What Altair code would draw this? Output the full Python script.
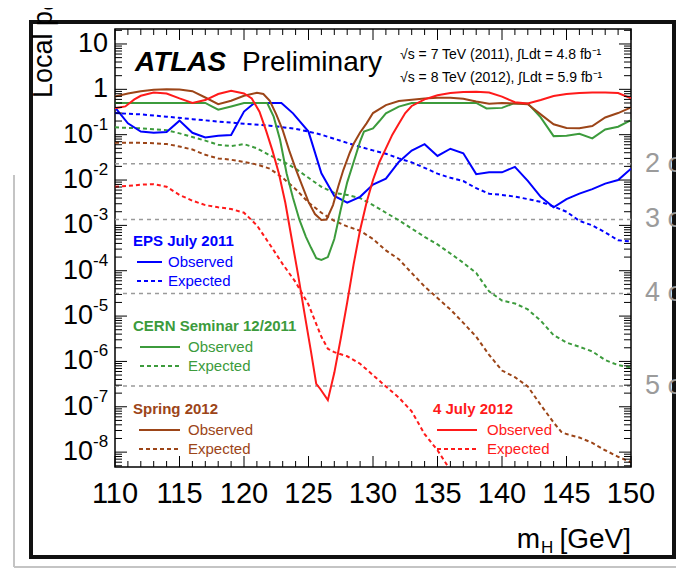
import altair as alt
import pandas as pd

# ---------------- data ----------------
blue_obs = [(110, 0.40), (111, 0.178), (112, 0.117), (113, 0.110), (114, 0.115), (115, 0.204),
            (116, 0.110), (117, 0.087), (118, 0.095), (119, 0.098), (120, 0.324), (120.8, 0.5),
            (122.9, 0.5), (123.8, 0.295), (125, 0.117), (126, 0.0141), (127, 0.00447),
            (128, 0.00316), (129, 0.00427), (130, 0.00794), (131, 0.0107), (132, 0.0251),
            (133, 0.0447), (134, 0.0617), (135, 0.0339), (136, 0.0490), (137, 0.0389),
            (138, 0.0135), (139, 0.0148), (140, 0.0148), (141, 0.0195), (142, 0.00955),
            (143, 0.00427), (144, 0.00251), (145, 0.00380), (146, 0.00501), (147, 0.00631),
            (148, 0.00832), (149, 0.0100), (150, 0.0178)]
blue_exp = [(110, 0.30), (112, 0.28), (114, 0.25), (116, 0.22), (118, 0.195), (120, 0.174),
            (122, 0.158), (124, 0.135), (125, 0.117), (126, 0.100), (127, 0.081), (128, 0.066),
            (129, 0.054), (130, 0.045), (131, 0.038), (132, 0.030), (133, 0.0245), (134, 0.0186),
            (135, 0.0138), (136, 0.0112), (137, 0.0095), (138, 0.0066), (139, 0.0050),
            (140, 0.0047), (141, 0.0043), (142, 0.0038), (143, 0.0033), (144, 0.0026),
            (145, 0.0020), (146, 0.00126), (147, 0.0010), (148, 0.0007), (149, 0.00047),
            (150, 0.00044)]
green_obs = [(110, 0.5), (117, 0.5), (117.5, 0.42), (118, 0.355), (119, 0.42), (120, 0.5),
             (121.8, 0.5), (122.3, 0.25), (122.8, 0.076), (123.3, 0.0141), (123.8, 0.0040),
             (124.3, 0.00132), (124.8, 5.6e-4), (125.2, 3.2e-4), (125.6, 1.9e-4), (126.0, 1.74e-4),
             (126.5, 2.0e-4), (127.0, 5.0e-4), (127.5, 2.24e-3), (128.0, 8.9e-3), (128.5, 0.025),
             (129.0, 0.071), (129.3, 0.117), (130.0, 0.138), (130.5, 0.20), (131.0, 0.295),
             (132.0, 0.417), (133.0, 0.5), (138.0, 0.5), (138.8, 0.38), (140.0, 0.39),
             (140.9, 0.49), (142.0, 0.49), (143.0, 0.24), (144.0, 0.093), (145.0, 0.095),
             (146.0, 0.105), (147.0, 0.083), (148.0, 0.13), (149.0, 0.15), (150.0, 0.21)]
green_exp = [(110, 0.145), (112, 0.138), (113, 0.132), (114, 0.126), (115, 0.107), (116, 0.089),
             (117, 0.074), (118, 0.060), (119, 0.056), (120, 0.062), (121, 0.050), (122, 0.035),
             (123, 0.026), (124, 0.0178), (125, 0.0112), (126, 0.0071), (127, 0.0052),
             (128, 0.0047), (129, 0.0040), (130, 0.0028), (131, 0.0019), (132, 0.0013),
             (133, 8.5e-4), (134, 5.6e-4), (135, 3.8e-4), (136, 2.4e-4), (137, 1.5e-4),
             (138, 8.9e-5), (139, 3.5e-5), (140, 2.2e-5), (141, 1.9e-5), (142, 1.4e-5),
             (143, 7.9e-6), (144, 3.8e-6), (145, 2.6e-6), (146, 2.1e-6), (147, 1.66e-6),
             (148, 1.07e-6), (149, 8.3e-7), (150, 7.4e-7)]
brown_obs = [(110, 0.69), (111, 0.81), (112, 0.91), (113, 0.98), (114, 1.0), (115, 0.99),
             (116, 0.91), (117, 0.66), (118, 0.47), (119, 0.56), (120, 0.72), (121, 0.84),
             (121.5, 0.79), (122, 0.56), (122.5, 0.28), (123, 0.126), (123.5, 0.045),
             (124, 0.0178), (124.5, 0.0076), (125, 0.0033), (125.5, 0.00178), (126, 0.00132),
             (126.4, 0.00135), (126.9, 0.0028), (127.3, 0.0071), (127.7, 0.0166), (128.2, 0.040),
             (128.5, 0.063), (129, 0.112), (129.5, 0.178), (130, 0.30), (131, 0.45), (132, 0.55),
             (133, 0.59), (134, 0.63), (135, 0.65), (136, 0.65), (137, 0.62), (138, 0.54),
             (139, 0.48), (140, 0.50), (141, 0.49), (142, 0.47), (143, 0.28), (144, 0.17),
             (145, 0.14), (146, 0.138), (147, 0.155), (148, 0.24), (149, 0.30), (150, 0.40)]
brown_exp = [(110, 0.066), (112, 0.066), (113, 0.065), (114, 0.062), (115, 0.055), (116, 0.047),
             (117, 0.036), (118, 0.030), (119, 0.028), (120, 0.025), (121, 0.022), (122, 0.0178),
             (123, 0.0112), (124, 0.0063), (125, 0.0032), (126, 0.0019), (127, 0.00126),
             (128, 0.00095), (129, 0.00076), (130, 0.0005), (131, 2.8e-4), (132, 1.8e-4),
             (133, 8.9e-5), (134, 4.5e-5), (135, 2.5e-5), (136, 1.4e-5), (137, 7.1e-6),
             (138, 3.5e-6), (139, 1.4e-6), (140, 6.3e-7), (141, 4.5e-7), (142, 2.8e-7),
             (143, 1.1e-7), (144, 4.5e-8), (144.6, 2.8e-8), (145, 2.5e-8), (146, 2.1e-8),
             (147, 1.6e-8), (148, 1.1e-8), (149, 7.9e-9), (150, 6.0e-9)]
red_obs = [(110, 0.38), (110.8, 0.42), (111.5, 0.60), (112, 0.72), (113, 0.85), (114, 0.81),
           (115, 0.63), (116, 0.50), (117, 0.58), (118, 0.79), (119, 0.93), (120, 0.81),
           (120.6, 0.63), (121.2, 0.32), (121.7, 0.126), (122.2, 0.045), (122.7, 0.0141),
           (123.2, 0.0032), (123.7, 5.0e-4), (124.2, 7.9e-5), (124.7, 1.1e-5), (125.2, 1.6e-6),
           (125.6, 3.2e-7), (125.9, 2.5e-7), (126.5, 1.4e-7), (127.0, 5.6e-7), (127.5, 3.2e-6),
           (128.0, 2.0e-5), (128.5, 1.4e-4), (129.0, 7.9e-4), (129.5, 0.0032), (130.0, 0.010),
           (130.5, 0.025), (131.0, 0.050), (131.5, 0.10), (132.0, 0.174), (132.5, 0.30),
           (133.0, 0.43), (134, 0.60), (135, 0.74), (136, 0.83), (137, 0.87), (138, 0.89),
           (139, 0.85), (140, 0.69), (141, 0.52), (142, 0.49), (143, 0.58), (144, 0.71),
           (145, 0.79), (146, 0.83), (147, 0.85), (148, 0.85), (149, 0.83), (150, 0.63)]
red_exp = [(110, 0.0071), (111, 0.0074), (112, 0.0079), (113, 0.0081), (114, 0.0071),
           (115, 0.0047), (116, 0.0035), (117, 0.0028), (118, 0.0025), (119, 0.0023),
           (120, 0.0019), (121, 0.0010), (122, 3.8e-4), (123, 1.4e-4), (124, 5.6e-5),
           (125, 1.8e-5), (126, 3.5e-6), (126.5, 1.9e-6), (127, 1.6e-6), (128, 1.3e-6),
           (129, 8.9e-7), (130, 5.0e-7), (131, 2.8e-7), (132, 1.6e-7), (133, 7.9e-8),
           (134, 2.5e-8), (135, 1.1e-8), (136, 4.0e-9), (136.5, 2.0e-9)]

sigma_p = [0.02275, 1.35e-3, 3.167e-5, 2.867e-7]
sigma_labels = ["2 σ", "3 σ", "4 σ", "5 σ"]

x_major = list(range(110, 151, 5))
x_minor = [v for v in range(110, 151) if v % 5]
y_exps = [1, 0, -1, -2, -3, -4, -5, -6, -7, -8]
y_mults = [2, 3, 4, 5, 6, 7, 8, 9]

groups = [
    ("EPS July 2011", "#0000ff", blue_obs, blue_exp),
    ("CERN Seminar 12/2011", "#3c9b3c", green_obs, green_exp),
    ("Spring 2012", "#9c4518", brown_obs, brown_exp),
    ("4 July 2012", "#ff1a1a", red_obs, red_exp),
]

# ---------------- layout ----------------
W, H = 516, 438
FONT = "Liberation Sans"
YMIN, YMAX = 4.7e-9, 21.4
DASH = [4, 3]

xs = alt.Scale(domain=[110, 150], zero=False, nice=False)
ys = alt.Scale(type="log", domain=[YMIN, YMAX], nice=False)
X = alt.X("m:Q", scale=xs, axis=None)
Y = alt.Y("p:Q", scale=ys, axis=None)

one = pd.DataFrame({"t": [0]})


def label(text, x, y, size, color="black", weight="normal", style="normal",
          align="left", baseline="middle", angle=0):
    kw = dict(align=align, baseline=baseline, font=FONT, fontSize=size, color=color,
              fontWeight=weight, fontStyle=style)
    if angle:
        kw["angle"] = angle
    return alt.Chart(pd.DataFrame({"t": [text]})).mark_text(**kw).encode(
        x=alt.value(x), y=alt.value(y), text="t:N")


def seg(x1, x2, y, color, dash=None, width=2):
    kw = dict(color=color, strokeWidth=width)
    if dash:
        kw["strokeDash"] = dash
    return alt.Chart(one).mark_rule(**kw).encode(
        x=alt.value(x1), x2=alt.value(x2), y=alt.value(y))


layers = []

# decorative photo frame
layers.append(alt.Chart(one).mark_rule(color="#c4c4c4", strokeWidth=2).encode(
    x=alt.value(-101), x2=alt.value(-101), y=alt.value(146), y2=alt.value(538)))
layers.append(alt.Chart(one).mark_rule(color="#c4c4c4", strokeWidth=2).encode(
    x=alt.value(-101), x2=alt.value(570), y=alt.value(538), y2=alt.value(538)))
layers.append(alt.Chart(one).mark_rule(color="#cfcfcf", strokeWidth=2).encode(
    x=alt.value(-95), x2=alt.value(570), y=alt.value(-22), y2=alt.value(-22)))
layers.append(alt.Chart(one).mark_rect(fillOpacity=0, stroke="#111111", strokeWidth=4).encode(
    x=alt.value(-84), x2=alt.value(559), y=alt.value(-7), y2=alt.value(528)))

# sigma reference lines
sig_df = pd.DataFrame({"p": sigma_p, "lab": sigma_labels})
layers.append(alt.Chart(sig_df).mark_rule(color="#9a9a9a", strokeWidth=1.5, strokeDash=[4, 4]).encode(
    y=Y, x=alt.value(0), x2=alt.value(W)))
layers.append(alt.Chart(sig_df).mark_text(align="left", baseline="middle", font=FONT, fontSize=27,
                                          color="#9b9b9b").encode(
    y=Y, x=alt.value(W + 14), text="lab:N"))

# curves
for name, col, obs, exp in groups:
    dexp = pd.DataFrame(exp, columns=["m", "p"])
    layers.append(alt.Chart(dexp).mark_line(color=col, strokeWidth=2, strokeDash=DASH, clip=True)
                  .encode(x=X, y=Y, order="m:Q"))
for name, col, obs, exp in groups:
    dobs = pd.DataFrame(obs, columns=["m", "p"])
    layers.append(alt.Chart(dobs).mark_line(color=col, strokeWidth=2, clip=True)
                  .encode(x=X, y=Y, order="m:Q"))

# ticks (ROOT style, inward on all four sides)
ymaj = pd.DataFrame({"p": [10.0 ** k for k in y_exps]})
ymin_vals = [mlt * 10.0 ** k for k in range(-9, 2) for mlt in y_mults]
ymin = pd.DataFrame({"p": [v for v in ymin_vals if YMIN <= v <= YMAX]})
for df, ln in ((ymaj, 12), (ymin, 7)):
    layers.append(alt.Chart(df).mark_rule(color="black", strokeWidth=1).encode(
        y=Y, x=alt.value(0), x2=alt.value(ln)))
    layers.append(alt.Chart(df).mark_rule(color="black", strokeWidth=1).encode(
        y=Y, x=alt.value(W - ln), x2=alt.value(W)))
xmaj = pd.DataFrame({"m": x_major})
xmin = pd.DataFrame({"m": x_minor})
for df, ln in ((xmaj, 11), (xmin, 6)):
    layers.append(alt.Chart(df).mark_rule(color="black", strokeWidth=1).encode(
        x=X, y=alt.value(H - ln), y2=alt.value(H)))
    layers.append(alt.Chart(df).mark_rule(color="black", strokeWidth=1).encode(
        x=X, y=alt.value(0), y2=alt.value(ln)))

# tick labels
xl = pd.DataFrame({"m": x_major, "t": [str(v) for v in x_major]})
layers.append(alt.Chart(xl).mark_text(align="center", baseline="middle", font=FONT, fontSize=29,
                                      color="black").encode(x=X, y=alt.value(H + 27), text="t:N"))
ypos = pd.DataFrame({"p": [10.0 ** k for k in y_exps if k >= 0],
                     "t": ["10" if k == 1 else "1" for k in y_exps if k >= 0]})
layers.append(alt.Chart(ypos).mark_text(align="right", baseline="middle", font=FONT, fontSize=27,
                                        color="black").encode(y=Y, x=alt.value(-7), text="t:N"))
yneg = pd.DataFrame({"p": [10.0 ** k for k in y_exps if k < 0],
                     "b": ["10" for k in y_exps if k < 0],
                     "e": [str(k) for k in y_exps if k < 0]})
layers.append(alt.Chart(yneg).mark_text(align="right", baseline="middle", font=FONT, fontSize=27,
                                        color="black").encode(y=Y, x=alt.value(-22), text="b:N"))
layers.append(alt.Chart(yneg).mark_text(align="left", baseline="middle", font=FONT, fontSize=17,
                                        color="black", dy=-10).encode(y=Y, x=alt.value(-22), text="e:N"))

# axis titles
layers.append(label("Local p₀", -71, 69, 27, angle=270))
layers.append(label("m", 425, 511, 28, align="right"))
layers.append(label("H", 426, 519, 17, align="left"))
layers.append(label("[GeV]", 516, 511, 28, align="right"))

# plot annotations
layers.append(label("ATLAS", 20, 34, 28, weight="bold", style="italic"))
layers.append(label("Preliminary", 127, 34, 28))
layers.append(label("√s = 7 TeV (2011), ∫Ldt = 4.8 fb⁻¹", 285, 26, 14))
layers.append(label("√s = 8 TeV (2012), ∫Ldt = 5.9 fb⁻¹", 285, 49, 14))

# legends: (title x, title y, sample start offset, sample end offset, text offset)
leg_pos = [(18, 212, 4, 29, 35), (18, 297, 7, 47, 55), (18, 380, 6, 47, 55), (318, 380, 4, 44, 54)]
for (name, col, obs, exp), (lx, ly, s1, s2, tx) in zip(groups, leg_pos):
    layers.append(label(name, lx, ly, 15, color=col, weight="bold"))
    layers.append(seg(lx + s1, lx + s2, ly + 21, col))
    layers.append(label("Observed", lx + tx, ly + 21, 15, color=col))
    layers.append(seg(lx + s1, lx + s2, ly + 40, col, dash=DASH))
    layers.append(label("Expected", lx + tx, ly + 40, 15, color=col))

chart = alt.layer(*layers).properties(
    width=W, height=H,
    padding={"left": 107, "top": 21, "right": 45, "bottom": 102},
    autosize=alt.AutoSizeParams(type="none"),
    background="white",
).configure_view(stroke="black", strokeWidth=1.5)

chart.save("out.html", embed_options={"renderer": "svg", "actions": False})
